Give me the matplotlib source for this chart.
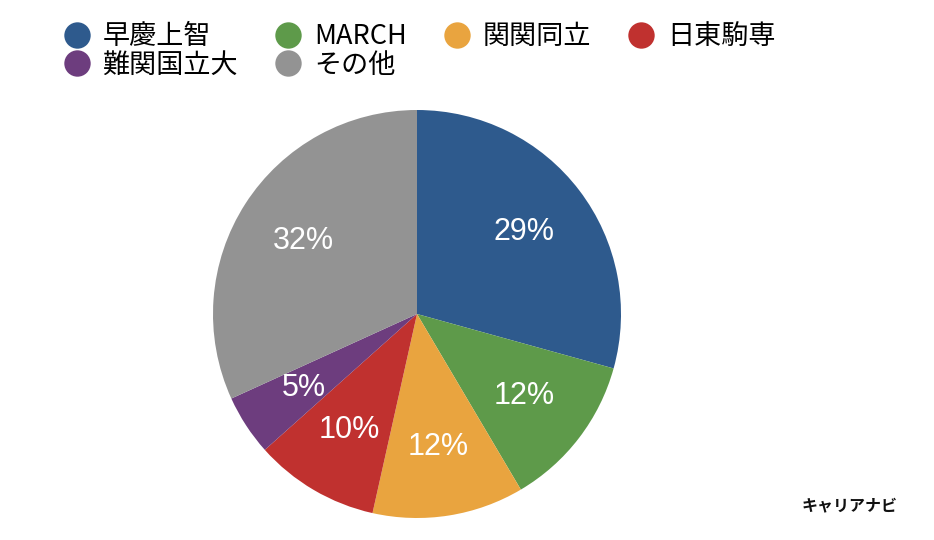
import matplotlib
matplotlib.use('Agg')
import matplotlib.pyplot as plt
from matplotlib.lines import Line2D

plt.rcParams['font.family'] = ['Noto Sans CJK JP', 'DejaVu Sans']

# --- data ---
labels = ['早慶上智', 'MARCH', '関関同立', '日東駒専', '難関国立大', 'その他']
shares = [29.3, 12.2, 12.0, 9.9, 4.8, 31.8]
colors = ['#2e5a8d', '#5e9a4a', '#e9a43f', '#c0312f', '#6d3d7e', '#939393']

fig = plt.figure(figsize=(9.34, 5.4), dpi=100)

# pie centre ~ (417, 314) px, radius ~ 204 px
cx, cy, r = 417, 314, 204
W, H = 934, 540
ax = fig.add_axes([(cx - r) / W, (H - cy - r) / H, 2 * r / W, 2 * r / H])

wedges, texts, autotexts = ax.pie(
    shares, colors=colors, startangle=90, counterclock=False,
    autopct='%.0f%%', pctdistance=0.66, radius=1,
    wedgeprops=dict(linewidth=0),
    textprops=dict(color='white', fontsize=22, family='Liberation Sans'))
ax.set_xlim(-1, 1)
ax.set_ylim(-1, 1)
ax.set_aspect('equal')
ax.axis('off')

# legend filled row by row (matplotlib fills columns, so reorder)
order = [0, 4, 1, 5, 2, 3]
handles = [Line2D([], [], marker='o', linestyle='', markersize=19,
                  markerfacecolor=colors[i], markeredgewidth=0) for i in order]
fig.legend(handles, [labels[i] for i in order], ncol=4, frameon=False,
           loc='upper left', bbox_to_anchor=(0.056, 0.977),
           fontsize=19.5, handletextpad=0.45, columnspacing=1.35,
           labelspacing=0.05, handlelength=1.0, borderaxespad=0)

fig.text(850 / W, 1 - 505 / H, 'キャリアナビ', ha='center', va='center',
         fontsize=11.5, fontweight='bold', color='#111111')

fig.savefig('out.png', dpi=100)
